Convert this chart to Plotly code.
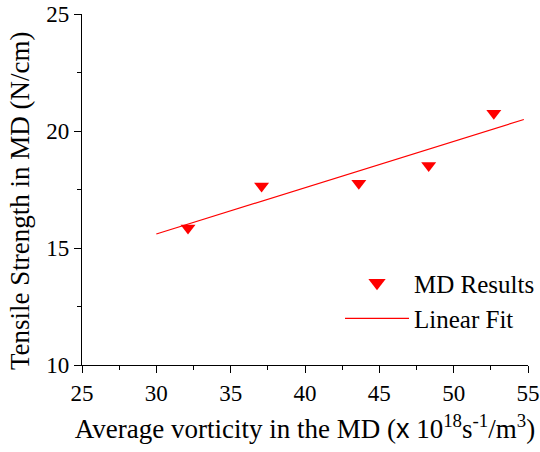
import plotly.graph_objects as go

# MD results
vorticity = [32.13, 37.08, 43.62, 48.32, 52.70]
strength = [15.86, 17.65, 17.77, 18.53, 20.76]

# Linear fit line end points
fit_x = [30.0, 54.72]
fit_y = [15.60, 20.49]

x_ticks = [25, 30, 35, 40, 45, 50, 55]
y_ticks = [10, 15, 20, 25]

serif = "Liberation Serif"
RED = "#ff0000"

fig = go.Figure()
fig.add_trace(go.Scatter(
    x=vorticity, y=strength, mode="markers", name="MD Results", showlegend=False,
    legendgroup="md",
    marker=dict(symbol="triangle-down", size=13, color=RED, line=dict(width=0)),
))
# legend entry for the MD results (larger symbol, as in the reference legend)
fig.add_trace(go.Scatter(
    x=[None], y=[None], mode="markers", name="MD Results", legendgroup="md",
    marker=dict(symbol="triangle-down", size=15, color=RED, line=dict(width=0)),
))
fig.add_trace(go.Scatter(
    x=fit_x, y=fit_y, mode="lines", name="Linear Fit",
    line=dict(color=RED, width=1.2),
))

axis_common = dict(
    showgrid=False, zeroline=False, showline=True, linecolor="black", linewidth=1.2,
    ticks="outside", ticklen=7, tickwidth=1.2, tickcolor="black",
    tickfont=dict(family=serif, size=23, color="black"),
    mirror=False, automargin=False,
)

fig.update_xaxes(
    range=[25, 55], tickvals=x_ticks, ticktext=[str(v) for v in x_ticks],
    minor=dict(dtick=2.5, tick0=25, ticks="outside", ticklen=4, tickwidth=1.2, tickcolor="black"),
    title=dict(
        text="Average vorticity in the MD (<span style='font-family:Liberation Sans'>x</span> 10<sup>18</sup>s<sup>-1</sup>/m<sup>3</sup>)",
        font=dict(family=serif, size=27, color="black"), standoff=14,
    ),
    **axis_common,
)
fig.update_yaxes(
    range=[10, 25], tickvals=y_ticks, ticktext=[str(v) for v in y_ticks],
    minor=dict(dtick=2.5, tick0=10, ticks="outside", ticklen=4, tickwidth=1.2, tickcolor="black"),
    **axis_common,
)

# y-axis title (placed as in the reference, slightly below the axis centre)
fig.add_annotation(
    text="Tensile Strength in MD (N/cm)", textangle=-90,
    xref="paper", yref="paper", x=0, y=0.4672, xanchor="center", yanchor="middle",
    xshift=-62, showarrow=False,
    font=dict(family=serif, size=27, color="black"),
)

fig.update_layout(
    template="none",
    width=540, height=452,
    margin=dict(l=82, r=12, t=14, b=87, autoexpand=False),
    plot_bgcolor="white", paper_bgcolor="white",
    font=dict(family=serif, color="black"),
    showlegend=True,
    legend=dict(
        x=0.5785, y=0.299, xanchor="left", yanchor="top",
        font=dict(family=serif, size=25, color="black"),
        bgcolor="rgba(0,0,0,0)", borderwidth=0, itemwidth=64,
        tracegroupgap=0,
    ),
)

fig.write_html(
    "out.html",
    config={"responsive": False, "displayModeBar": False},
    post_script="document.body.style.margin='0';document.body.style.overflow='hidden';",
)
